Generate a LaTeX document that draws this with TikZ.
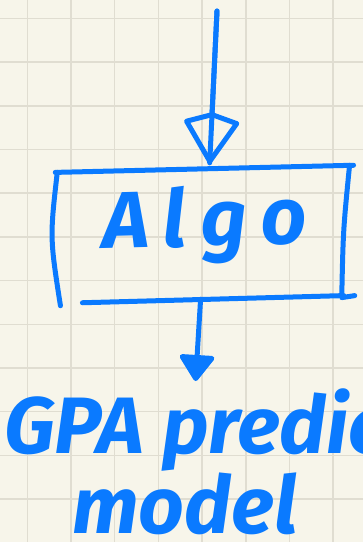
\documentclass[tikz,border=0pt]{standalone}
\usepackage{fontspec}
\setmainfont{Fira Sans}
\usetikzlibrary{arrows.meta}

\definecolor{paper}{HTML}{F7F5EA}
\definecolor{gridline}{HTML}{E0DDD1}
\definecolor{ink}{HTML}{0A7AFF}

\tikzset{
    pen/.style={draw=ink, line width=5pt, line cap=round, line join=round},
    hand/.style={text=ink, inner sep=0pt, font=\fontsize{80}{84}\selectfont\bfseries\itshape},
}

\begin{document}
\begin{tikzpicture}[x=1pt, y=-1pt]

    % Page size and square size of the paper
    \def\w{363}
    \def\h{542}
    \def\g{43.7}

    \useasboundingbox (0,0) rectangle (\w,\h);
    \clip (0,0) rectangle (\w,\h);

    % Squared paper
    \fill[paper] (0,0) rectangle (\w,\h);
    \foreach \i in {0,...,7} {
        \draw[gridline, line width=1.5pt] ({27.3+\g*\i},0) -- ({27.3+\g*\i},\h);
    }
    \foreach \j in {0,...,12} {
        \draw[gridline, line width=1.5pt] (0,{18.4+\g*\j}) -- (\w,{18.4+\g*\j});
    }

    % Free end of the input arrow
    \coordinate (in) at (217,11);

    % Algorithm box (edges drawn by hand below)
    \node[hand, rotate=1.4, minimum width=292pt, minimum height=130pt,
          text height=40pt, text depth=16pt] (algo) at (205,234)
          {\addfontfeature{LetterSpace=18}Algo};

    % Output text
    \node[hand, anchor=base west] (gpa) at (4,453) {GPA predic};
    \node[hand, anchor=base west] (model) at (72,533) {model};

    % Box edges
    \draw[pen] ([xshift=-2pt]algo.north west) -- ([xshift=4pt]algo.north east);
    \draw[pen] (algo.north west) .. controls ([xshift=-9pt]algo.west) .. ([yshift=-3pt]algo.south west);
    \draw[pen] (algo.north east) .. controls ([xshift=-8pt]algo.east) .. ([xshift=-11pt,yshift=-2pt]algo.south east)
        -- ([xshift=2pt]algo.south east);
    \draw[pen] ([xshift=22pt]algo.south west) -- ([xshift=-9pt]algo.south east);

    % Arrows in and out (shaft runs on through the open head)
    \draw[pen, shorten >=6pt] (in) -- ([xshift=6pt]algo.north);
    \draw[pen, -{Kite[open, round, length=54pt, width=58pt, inset=9pt]}, shorten >=5pt]
        (in) -- ([xshift=6pt]algo.north);
    \draw[pen, -{Triangle[round, length=28pt, width=38pt]}, shorten >=7pt]
        ([xshift=-6pt]algo.south) -- (gpa.north);

\end{tikzpicture}
\end{document}
